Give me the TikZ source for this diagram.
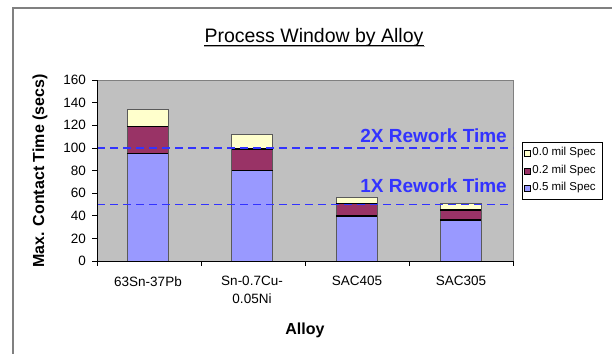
\documentclass[tikz,border=0pt]{standalone}
\usepackage{fontspec}
\setmainfont{Liberation Sans}
\usepackage{xcolor}
\usepackage{tikz}
\usetikzlibrary{positioning}
\definecolor{plotgray}{RGB}{192,192,192}
\definecolor{framegray}{RGB}{128,128,128}
\definecolor{bargray}{RGB}{90,90,90}
\definecolor{specnone}{RGB}{255,255,204}
\definecolor{spectwo}{RGB}{153,51,102}
\definecolor{specfive}{RGB}{153,153,255}
\definecolor{reworkblue}{RGB}{51,51,255}

\begin{document}
\begin{tikzpicture}[x=1pt, y=-1pt,
  ticklabel/.style={anchor=east, inner sep=0pt, font=\fontsize{13.5}{13.5}\selectfont},
  catlabel/.style={anchor=north, inner sep=0pt, align=center, font=\fontsize{13.5}{18}\selectfont},
  axistitle/.style={inner sep=0pt, font=\fontsize{16}{16}\selectfont\bfseries},
  seg/.style={draw=bargray, line width=1pt},
  divider/.style={black, line width=1.6pt},
  rework/.style={reworkblue, line width=1.5pt, dash pattern=on 8pt off 5pt},
  reworklabel/.style={anchor=base east, inner sep=0pt, text=reworkblue, font=\fontsize{19}{19}\selectfont\bfseries},
  legendtext/.style={anchor=west, inner sep=0pt, font=\fontsize{11.5}{11.5}\selectfont},
  legendmark/.style={draw=black, line width=0.4pt, minimum size=6pt, inner sep=0pt}]

\useasboundingbox (0,0) rectangle (612,353);
\fill[white] (0,0) rectangle (612,353);
\draw[framegray, line width=1.5pt] (13,360) -- (13,8) -- (620,8);

\node (title) at (314,37) [inner sep=0pt, font=\fontsize{19.5}{19.5}\selectfont]{Process Window by Alloy};
\draw[framegray!70, line width=1.2pt] ([yshift=-4.5pt]title.base west) -- ([yshift=-4.5pt,xshift=1pt]title.base east);
\draw[black, line width=0.9pt] ([yshift=-3pt]title.base west) -- ([yshift=-3pt]title.base east);

\node (ylabel) at (40,171) [axistitle, rotate=90]{Max. Contact Time (secs)};

\begin{scope}[shift={(97,261)}, y=1.131pt]
\fill[plotgray] (0,0) rectangle (416,160);
\draw[framegray] (0,0) rectangle (416,160);

\draw[seg, fill=specfive] (30,0) rectangle (71,95);
\draw[seg, fill=spectwo] (30,95) rectangle (71,119);
\draw[seg, fill=specnone] (30,119) rectangle (71,134);
\draw[divider] (30,95) -- (71,95) (30,119) -- (71,119);

\draw[seg, fill=specfive] (134.5,0) rectangle (175.5,80);
\draw[seg, fill=spectwo] (134.5,80) rectangle (175.5,99);
\draw[seg, fill=specnone] (134.5,99) rectangle (175.5,112);
\draw[divider] (134.5,80) -- (175.5,80) (134.5,99) -- (175.5,99);

\draw[seg, fill=specfive] (239,0) rectangle (280,40);
\draw[seg, fill=spectwo] (239,40) rectangle (280,51);
\draw[seg, fill=specnone] (239,51) rectangle (280,56);
\draw[divider] (239,40) -- (280,40) (239,51) -- (280,51);

\draw[seg, fill=specfive] (343,0) rectangle (384,36);
\draw[seg, fill=spectwo] (343,36) rectangle (384,45);
\draw[seg, fill=specnone] (343,45) rectangle (384,51);
\draw[divider] (343,36) -- (384,36) (343,45) -- (384,45);

\draw[rework] (0,100) -- (416,100);
\draw[rework] (0,50) -- (416,50);
\node (twox) at (410,105.2) [reworklabel]{2X Rework Time};
\node (onex) at (410,60.4) [reworklabel]{1X Rework Time};

\draw[black, line width=0.8pt] (0,160) -- (0,0) -- (416,0);
\draw[black, line width=0.8pt] (0,0) -- (-5,0) (0,20) -- (-5,20) (0,40) -- (-5,40)
  (0,60) -- (-5,60) (0,80) -- (-5,80) (0,100) -- (-5,100) (0,120) -- (-5,120)
  (0,140) -- (-5,140) (0,160) -- (-5,160);
\draw[black, line width=0.8pt] (0,0) -- (0,-4.4) (104,0) -- (104,-4.4)
  (208,0) -- (208,-4.4) (312,0) -- (312,-4.4) (416,0) -- (416,-4.4);

\node (t0) at (-11,0) [ticklabel]{0};
\node (t20) at (-11,20) [ticklabel]{20};
\node (t40) at (-11,40) [ticklabel]{40};
\node (t60) at (-11,60) [ticklabel]{60};
\node (t80) at (-11,80) [ticklabel]{80};
\node (t100) at (-11,100) [ticklabel]{100};
\node (t120) at (-11,120) [ticklabel]{120};
\node (t140) at (-11,140) [ticklabel]{140};
\node (t160) at (-11,160) [ticklabel]{160};

\node (a1) at (51,-13.5) [catlabel]{63Sn-37Pb};
\node (a2) at (155,-13.5) [catlabel]{Sn-0.7Cu-\\0.05Ni};
\node (a3) at (260,-13.5) [catlabel]{SAC405};
\node (a4) at (364,-13.5) [catlabel]{SAC305};

\node (xlabel) at (208,-61) [axistitle]{Alloy};
\end{scope}

\draw[black, line width=0.8pt, fill=white] (522,142) rectangle (602,199);
\node (m1) at (527,153) [legendmark, fill=specnone]{};
\node (m2) at (527,171) [legendmark, fill=spectwo]{};
\node (m3) at (527,188) [legendmark, fill=specfive]{};
\node (l1) [legendtext, right=2pt of m1]{0.0 mil Spec};
\node (l2) [legendtext, right=2pt of m2]{0.2 mil Spec};
\node (l3) [legendtext, right=2pt of m3]{0.5 mil Spec};

\end{tikzpicture}
\end{document}
